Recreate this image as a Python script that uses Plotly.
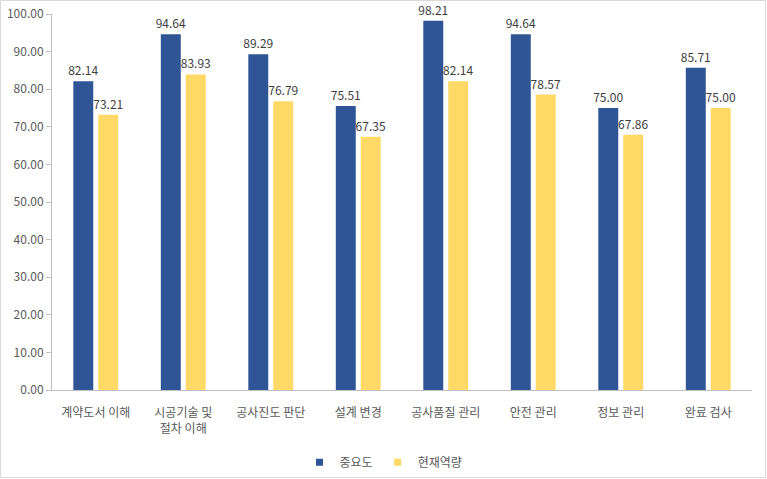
import plotly.graph_objects as go

categories = ["계약도서 이해", "시공기술 및<br>절차 이해", "공사진도 판단", "설계 변경",
              "공사품질 관리", "안전 관리", "정보 관리", "완료 검사"]
importance = [82.14, 94.64, 89.29, 75.51, 98.21, 94.64, 75.00, 85.71]
competence = [73.21, 83.93, 76.79, 67.35, 82.14, 78.57, 67.86, 75.00]
series_names = ["중요도", "현재역량"]
series_colors = ["#2F5597", "#FFD966"]
yticks = [0, 10, 20, 30, 40, 50, 60, 70, 80, 90, 100]

FONT = "Noto Sans CJK KR, Noto Sans, sans-serif"
W, H = 767, 479
ML, MR, MT, MB = 52, 15, 14, 89

fig = go.Figure()
for name, vals, col in zip(series_names, [importance, competence], series_colors):
    fig.add_trace(go.Bar(
        x=categories, y=vals, name=name, showlegend=False,
        marker=dict(color=col, line=dict(width=0)),
        text=[f"{v:.2f}" for v in vals], textposition="outside",
        constraintext="none",
        textfont=dict(size=12, color="#404040", family=FONT), cliponaxis=False,
    ))
for name, col in zip(series_names, series_colors):
    fig.add_trace(go.Scatter(
        x=[None], y=[None], mode="markers", name=name,
        marker=dict(symbol="square", size=7, color=col),
    ))

pw = W - ML - MR
ph = H - MT - MB
fig.update_layout(
    width=W, height=H,
    margin=dict(l=ML, r=MR, t=MT, b=MB, autoexpand=False),
    paper_bgcolor="white", plot_bgcolor="white",
    font=dict(family=FONT, size=12, color="#595959"),
    barmode="group", bargap=0.43, bargroupgap=0.2,
    showlegend=True,
    legend=dict(orientation="h", x=0.5, xanchor="center", xref="container",
                y=0.035, yanchor="middle", yref="container",
                font=dict(size=12, color="#595959"), itemwidth=30,
                tracegroupgap=0, traceorder="normal", bgcolor="rgba(0,0,0,0)"),
    xaxis=dict(showline=True, linecolor="#BFBFBF", linewidth=1, ticks="",
               tickfont=dict(size=12, color="#595959"), showgrid=False,
               automargin=False, ticklabelstandoff=12),
    yaxis=dict(range=[0, 100], tickvals=yticks, ticktext=[f"{v:.2f}" for v in yticks],
               showline=True, linecolor="#BFBFBF", linewidth=1, ticks="outside",
               ticklen=5, tickcolor="#BFBFBF", showgrid=False, zeroline=False,
               automargin=False,
               tickfont=dict(size=12, color="#595959")),
    shapes=[dict(type="rect", xref="paper", yref="paper",
                 x0=-(ML - 0.5) / pw, x1=1 + (MR - 1.5) / pw,
                 y0=-(MB - 1.5) / ph, y1=1 + (MT - 0.5) / ph,
                 line=dict(color="#D9D9D9", width=1))],
)

fig.write_html("out.html")
